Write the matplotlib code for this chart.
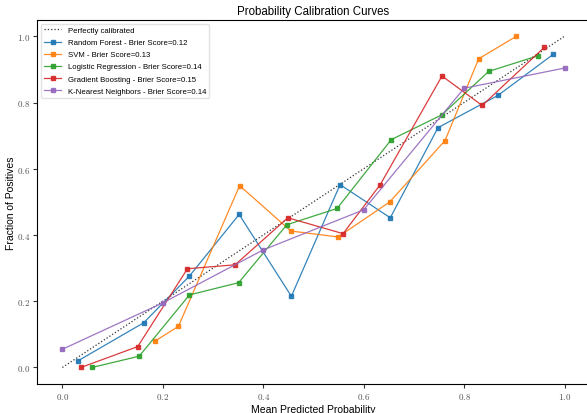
import matplotlib
matplotlib.use("Agg")
import matplotlib.pyplot as plt
from matplotlib.ticker import FuncFormatter

# fonts: sans text, computer modern tick labels
plt.rcParams["font.family"] = ["Liberation Sans", "DejaVu Sans"]
plt.rcParams["mathtext.fontset"] = "cm"

# calibration curve data (mean predicted probability, fraction of positives)
RF_X = [0.031, 0.162, 0.253, 0.352, 0.456, 0.553, 0.653, 0.748, 0.868, 0.977]
RF_Y = [0.020, 0.135, 0.276, 0.462, 0.215, 0.552, 0.452, 0.724, 0.822, 0.945]

SVM_X = [0.185, 0.231, 0.353, 0.455, 0.549, 0.652, 0.762, 0.829, 0.904]
SVM_Y = [0.080, 0.124, 0.549, 0.412, 0.394, 0.500, 0.685, 0.932, 1.000]

LR_X = [0.059, 0.153, 0.253, 0.351, 0.447, 0.547, 0.655, 0.756, 0.849, 0.947]
LR_Y = [0.000, 0.034, 0.219, 0.256, 0.431, 0.480, 0.688, 0.763, 0.894, 0.941]

GB_X = [0.037, 0.150, 0.249, 0.344, 0.449, 0.559, 0.633, 0.756, 0.836, 0.960]
GB_Y = [0.000, 0.063, 0.298, 0.310, 0.452, 0.404, 0.552, 0.880, 0.791, 0.967]

KNN_X = [0.0, 0.2, 0.4, 0.6, 0.8, 1.0]
KNN_Y = [0.055, 0.195, 0.355, 0.476, 0.843, 0.904]

MODELS = [
    ("Random Forest", 0.12, RF_X, RF_Y, "#1f77b4"),
    ("SVM", 0.13, SVM_X, SVM_Y, "#ff7f0e"),
    ("Logistic Regression", 0.14, LR_X, LR_Y, "#2ca02c"),
    ("Gradient Boosting", 0.15, GB_X, GB_Y, "#d62728"),
    ("K-Nearest Neighbors", 0.14, KNN_X, KNN_Y, "#9467bd"),
]

TICKS = [0.0, 0.2, 0.4, 0.6, 0.8, 1.0]


def main():
    fig = plt.figure(figsize=(5.87, 4.14), dpi=100)
    ax = fig.add_axes([0.0635, 0.0700, 0.941, 0.880])

    # diagonal reference
    ax.plot([0, 1], [0, 1], linestyle=":", color="#333333", linewidth=0.9,
            label="Perfectly calibrated")

    for name, score, xs, ys, color in MODELS:
        ax.plot(xs, ys, marker="s", markersize=3.2, linewidth=0.9, color=color,
                alpha=0.9, label=f"{name} - Brier Score={score:.2f}")

    ax.set_xlim(-0.05, 1.05)
    ax.set_ylim(-0.05, 1.05)
    ax.set_xticks(TICKS)
    ax.set_yticks(TICKS)
    fmt = FuncFormatter(lambda v, _: f"${v:.1f}$")
    ax.xaxis.set_major_formatter(fmt)
    ax.yaxis.set_major_formatter(fmt)
    ax.tick_params(labelsize=6.5, length=3, width=0.8, pad=2,
                   colors="#333333", labelcolor="#555555")

    ax.set_xlabel("Mean Predicted Probability", fontsize=7.5, labelpad=2)
    ax.set_ylabel("Fraction of Positives", fontsize=7.5, labelpad=1)
    ax.set_title("Probability Calibration Curves", fontsize=8.3, pad=4)

    ax.legend(loc="upper left", fontsize=5.6, frameon=True, framealpha=0.8,
              edgecolor="#dddddd", borderaxespad=0.5, handlelength=2.2,
              labelspacing=0.6)

    fig.savefig("out.png", dpi=100)


if __name__ == "__main__":
    main()
